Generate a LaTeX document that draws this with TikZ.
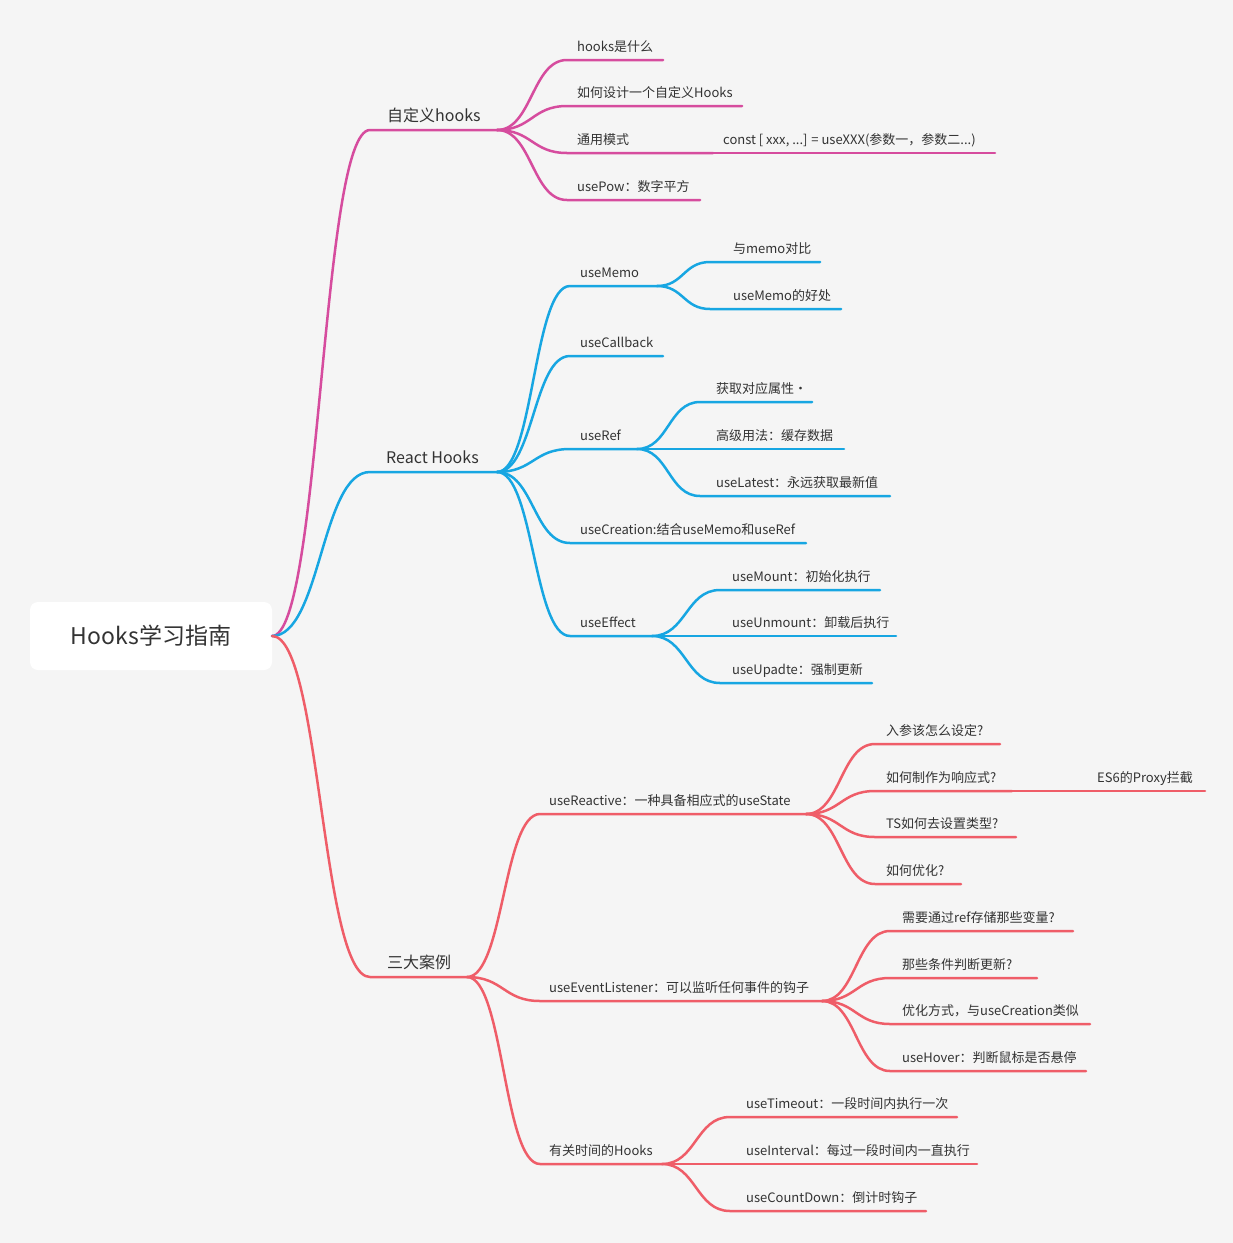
\documentclass[tikz,border=0pt]{standalone}
\usepackage{fontspec}
\setmainfont{Noto Sans CJK SC}
\usetikzlibrary{calc}
\definecolor{bgc}{HTML}{F5F5F5}
\definecolor{cmag}{HTML}{D64C9E}
\definecolor{cblue}{HTML}{17A6E2}
\definecolor{cred}{HTML}{EF5D68}
\definecolor{txt}{HTML}{333333}
% #1 draw style, #2 label style, #3 parent point, #4 name, #5 x start, #6 x end, #7 y, #8 text x, #9 text
\newcommand\mmkid[9]{%
  \coordinate (#4-s) at (#5,#7);
  \coordinate (#4-e) at (#6,#7);
  \node[#2] (#4) at (#8,#7-9) {#9};
  \draw[#1] let \p1=(#3), \p2=(#4-s) in (\p1) .. controls ({0.5*\x1+0.5*\x2},\y1) and ({0.5*\x1+0.5*\x2},\y2) .. (\p2) -- (#4-e);
}
\begin{document}
\begin{tikzpicture}[x=1pt,y=-1pt,
  lbl/.style={font=\fontsize{13}{15}\selectfont, text=txt, inner sep=0pt, anchor=base west},
  blbl/.style={font=\fontsize{16}{18}\selectfont, text=txt, inner sep=0pt, anchor=base west},
  mag/.style={draw=cmag, line width=2.5pt, line cap=round},
  blu/.style={draw=cblue, line width=2.5pt, line cap=round},
  rd/.style={draw=cred, line width=2.5pt, line cap=round}]
\fill[bgc] (0,0) rectangle (1233,1243);
\useasboundingbox (0,0) rectangle (1233,1243);
\node[fill=white, rounded corners=8pt, minimum width=242pt, minimum height=68pt, inner sep=0pt,
  font=\fontsize{23}{26}\selectfont, text=txt] (root) at (151,636) {Hooks学习指南};
\coordinate (rt) at (272,636);

% ---- 自定义hooks
\mmkid{mag}{blbl}{rt}{zdy}{370}{497}{130}{387}{自定义hooks}
\mmkid{mag}{lbl}{zdy-e}{m1}{567}{663}{60}{577}{hooks是什么}
\mmkid{mag}{lbl}{zdy-e}{m2}{567}{742}{106}{577}{如何设计一个自定义Hooks}
\mmkid{mag}{lbl}{zdy-e}{m3}{567}{713}{153}{577}{通用模式}
\node[lbl] (m31) at (723,144) {const [ xxx, ...] = useXXX(参数一，参数二...)};
\coordinate (m31-e) at (995,153);
\draw[mag] (m3-e) -- (m31-e);
\mmkid{mag}{lbl}{zdy-e}{m4}{567}{700}{200}{577}{usePow：数字平方}

% ---- React Hooks
\mmkid{blu}{blbl}{rt}{rh}{370}{497}{472}{386}{React Hooks}
\mmkid{blu}{lbl}{rh-e}{b1}{570}{657}{286}{580}{useMemo}
\mmkid{blu}{lbl}{b1-e}{b11}{710}{820}{262}{733}{与memo对比}
\mmkid{blu}{lbl}{b1-e}{b12}{710}{841}{309}{733}{useMemo的好处}
\mmkid{blu}{lbl}{rh-e}{b2}{570}{663}{356}{580}{useCallback}
\mmkid{blu}{lbl}{rh-e}{b3}{570}{637}{449}{580}{useRef}
\mmkid{blu}{lbl}{b3-e}{b31}{700}{812}{402}{716}{获取对应属性·}
\mmkid{blu}{lbl}{b3-e}{b32}{700}{844}{449}{716}{高级用法：缓存数据}
\mmkid{blu}{lbl}{b3-e}{b33}{700}{890}{496}{716}{useLatest：永远获取最新值}
\mmkid{blu}{lbl}{rh-e}{b4}{570}{806}{543}{580}{useCreation:结合useMemo和useRef}
\mmkid{blu}{lbl}{rh-e}{b5}{570}{652}{636}{580}{useEffect}
\mmkid{blu}{lbl}{b5-e}{b51}{720}{880}{590}{732}{useMount：初始化执行}
\mmkid{blu}{lbl}{b5-e}{b52}{720}{896}{636}{732}{useUnmount：卸载后执行}
\mmkid{blu}{lbl}{b5-e}{b53}{720}{872}{683}{732}{useUpadte：强制更新}

% ---- 三大案例
\mmkid{rd}{blbl}{rt}{sd}{370}{467}{977}{387}{三大案例}
\mmkid{rd}{lbl}{sd-e}{r1}{540}{806}{814}{549}{useReactive：一种具备相应式的useState}
\mmkid{rd}{lbl}{r1-e}{r11}{875}{1000}{744}{886}{入参该怎么设定?}
\mmkid{rd}{lbl}{r1-e}{r12}{875}{1012}{791}{886}{如何制作为响应式?}
\node[lbl] (r121) at (1097,782) {ES6的Proxy拦截};
\coordinate (r121-e) at (1205,791);
\draw[rd] (r12-e) -- (r121-e);
\mmkid{rd}{lbl}{r1-e}{r13}{875}{1016}{837}{886}{TS如何去设置类型?}
\mmkid{rd}{lbl}{r1-e}{r14}{875}{961}{884}{886}{如何优化?}
\mmkid{rd}{lbl}{sd-e}{r2}{540}{822}{1001}{549}{useEventListener：可以监听任何事件的钩子}
\mmkid{rd}{lbl}{r2-e}{r21}{890}{1073}{931}{902}{需要通过ref存储那些变量?}
\mmkid{rd}{lbl}{r2-e}{r22}{890}{1037}{978}{902}{那些条件判断更新?}
\mmkid{rd}{lbl}{r2-e}{r23}{890}{1090}{1024}{902}{优化方式，与useCreation类似}
\mmkid{rd}{lbl}{r2-e}{r24}{890}{1086}{1071}{902}{useHover：判断鼠标是否悬停}
\mmkid{rd}{lbl}{sd-e}{r3}{540}{662}{1164}{549}{有关时间的Hooks}
\mmkid{rd}{lbl}{r3-e}{r31}{730}{957}{1117}{746}{useTimeout：一段时间内执行一次}
\mmkid{rd}{lbl}{r3-e}{r32}{730}{977}{1164}{746}{useInterval：每过一段时间内一直执行}
\mmkid{rd}{lbl}{r3-e}{r33}{730}{926}{1211}{746}{useCountDown：倒计时钩子}
\end{tikzpicture}
\end{document}
